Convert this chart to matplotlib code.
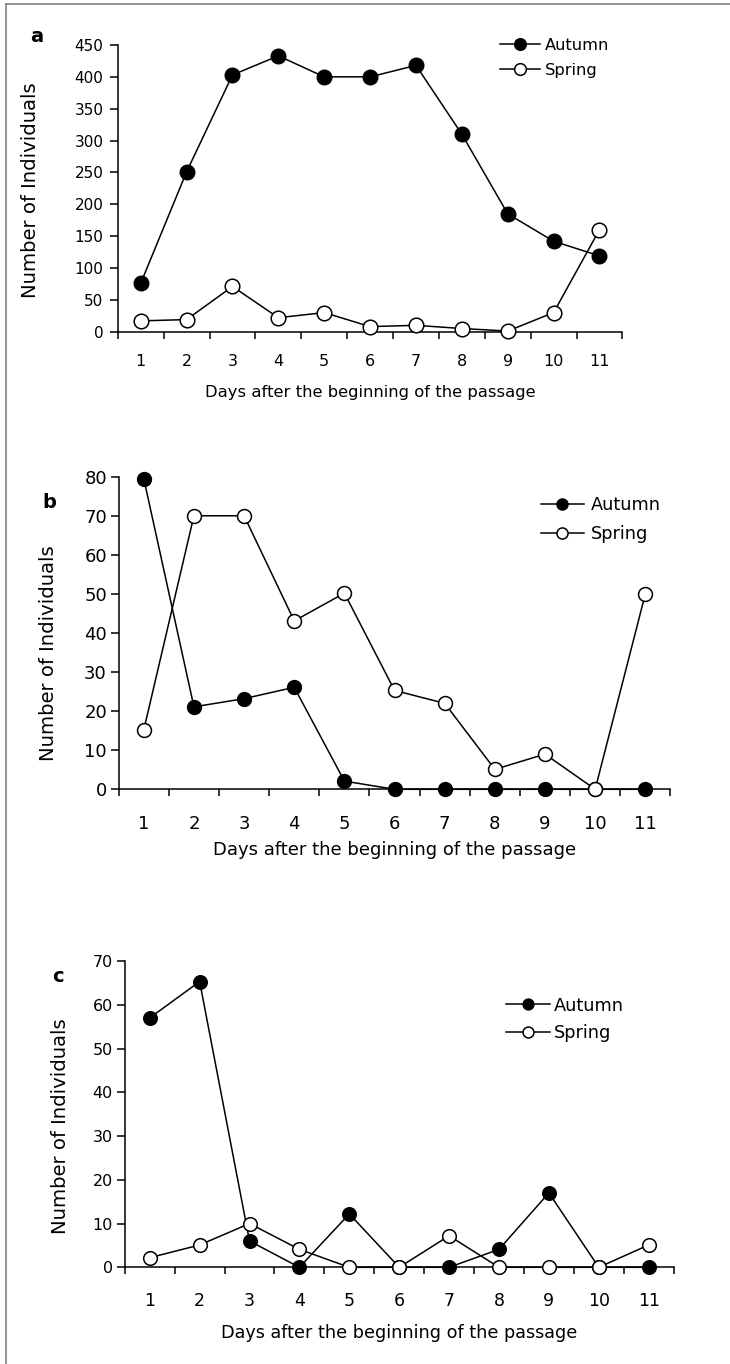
import matplotlib
matplotlib.use("Agg")
import matplotlib.pyplot as plt
from matplotlib.lines import Line2D
from matplotlib.ticker import MultipleLocator, FixedLocator

plt.rcParams['font.family'] = ['DejaVu Sans']

days = list(range(1, 12))
day_labels = [str(d) for d in days]

# panel a
autumn_a = [76, 251, 403, 433, 400, 400, 418, 310, 185, 142, 119]
spring_a = [17, 19, 71, 22, 30, 8, 10, 5, 1, 30, 160]
# panel b
autumn_b = [79.5, 21.1, 23.2, 26.1, 2.1, 0, 0, 0, 0, 0, 0]
spring_b = [15.2, 70, 70, 43.1, 50.2, 25.3, 22, 5.1, 9, 0, 50]
# panel c
autumn_c = [57, 65.3, 6, 0, 12.2, 0, 0, 4.1, 17, 0, 0]
spring_c = [2.2, 5.1, 10, 4.1, 0, 0, 7.2, 0, 0, 0, 5.1]

series_names = ['Autumn', 'Spring']
xlabel_text = 'Days after the beginning of the passage'
ylabel_text = 'Number of Individuals'

W, H = 730, 1364

# layout per panel, in pixels: axes box (left, top, right, bottom), text spots
panels = [
    dict(letter='a', autumn=autumn_a, spring=spring_a, ymax=450, ystep=50,
         box=(117.8, 45.0, 622.4, 331.7), letter_xy=(37, 37), ylab_xy=(31, 190),
         xlab_y=393, fs_xtick=11.5, fs_ytick=11, fs_xlab=11.8, fs_leg=11.7,
         fs_ylab=14.1, xpad=16.0, ypad=4.3, ms=10.5, leg_xy=(0.758, 0.955),
         handlelen=2.44, textpad=0.3, spacing=0.6),
    dict(letter='b', autumn=autumn_b, spring=spring_b, ymax=80, ystep=10,
         box=(118.7, 476.7, 670.4, 789.3), letter_xy=(49, 503), ylab_xy=(49, 653),
         xlab_y=850, fs_xtick=13, fs_ytick=13, fs_xlab=13, fs_leg=12.8,
         fs_ylab=14.1, xpad=18.3, ypad=2.5, ms=10, leg_xy=(0.765, 0.863),
         handlelen=2.43, textpad=0.4, spacing=0.6),
    dict(letter='c', autumn=autumn_c, spring=spring_c, ymax=70, ystep=10,
         box=(124.8, 961.0, 673.6, 1267.3), letter_xy=(58, 977), ylab_xy=(60.5, 1126),
         xlab_y=1333, fs_xtick=12.5, fs_ytick=11.5, fs_xlab=12.7, fs_leg=12.8,
         fs_ylab=14.1, xpad=17.5, ypad=2.7, ms=9.8, leg_xy=(0.6955, 0.809),
         handlelen=2.43, textpad=0.26, spacing=0.55),
]

fig = plt.figure(figsize=(W / 100, H / 100), dpi=100)

for p in panels:
    l, t, r, b = p['box']
    ax = fig.add_axes([l / W, 1 - b / H, (r - l) / W, (b - t) / H])

    ax.plot(days, p['autumn'], color='black', lw=1.1, marker='o', ms=p['ms'],
            mfc='black', mec='black', mew=1, clip_on=False, zorder=3,
            label=series_names[0])
    ax.plot(days, p['spring'], color='black', lw=1.1, marker='o', ms=p['ms'],
            mfc='white', mec='black', mew=1.1, clip_on=False, zorder=4,
            label=series_names[1])

    ax.set_xlim(0.5, 11.5)
    ax.set_ylim(0, p['ymax'])

    for side in ('top', 'right'):
        ax.spines[side].set_visible(False)
    for side in ('left', 'bottom'):
        ax.spines[side].set_linewidth(1.1)

    # day labels sit between the tick marks
    ax.xaxis.set_major_locator(FixedLocator(days))
    ax.set_xticklabels(day_labels)
    ax.xaxis.set_minor_locator(FixedLocator([d - 0.5 for d in days] + [11.5]))
    ax.tick_params(axis='x', which='major', length=0, pad=p['xpad'],
                   labelsize=p['fs_xtick'])
    ax.tick_params(axis='x', which='minor', length=4.8, width=1.1, direction='out')

    ax.yaxis.set_major_locator(MultipleLocator(p['ystep']))
    ax.tick_params(axis='y', which='major', length=6, width=1.1, direction='out',
                   pad=p['ypad'], labelsize=p['fs_ytick'])

    ax.legend(loc='center left', bbox_to_anchor=p['leg_xy'], frameon=False,
              borderpad=0, borderaxespad=0, handlelength=p['handlelen'],
              handletextpad=p['textpad'], labelspacing=p['spacing'],
              markerscale=0.8, fontsize=p['fs_leg'])

    fig.text((l + r) / 2 / W, 1 - p['xlab_y'] / H, xlabel_text,
             ha='center', va='center', fontsize=p['fs_xlab'])
    fig.text(p['ylab_xy'][0] / W, 1 - p['ylab_xy'][1] / H, ylabel_text,
             rotation=90, ha='center', va='center', fontsize=p['fs_ylab'])
    fig.text(p['letter_xy'][0] / W, 1 - p['letter_xy'][1] / H, p['letter'],
             ha='center', va='center', fontsize=14, fontweight='bold')

# thin grey frame along the top and left edges
fig.add_artist(Line2D([6 / W, 1], [1 - 4 / H, 1 - 4 / H], color='#808080', lw=1.2))
fig.add_artist(Line2D([6 / W, 6 / W], [0, 1 - 4 / H], color='#808080', lw=1.2))

fig.savefig('out.png', dpi=100)
